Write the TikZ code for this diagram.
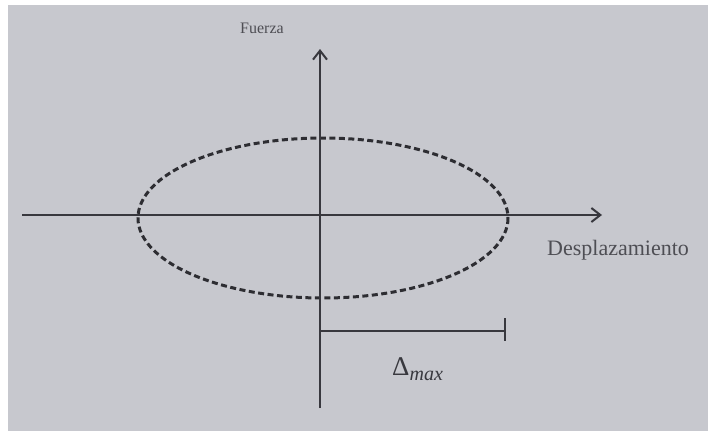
\documentclass[tikz,border=0pt]{standalone}
\usepackage{fontspec}
\setmainfont{Liberation Serif}
\usetikzlibrary{arrows.meta}
\definecolor{paper}{RGB}{199,200,206}
\definecolor{ink}{RGB}{56,56,62}
\definecolor{txt}{RGB}{78,78,84}
\tikzset{
  axis/.style={draw=ink, line width=2pt, -{Straight Barb[length=9pt,width=14pt,line width=2pt]}},
  plain/.style={draw=ink, line width=2pt},
  loop/.style={draw=ink!80!black, line width=3pt, dash pattern=on 6pt off 3.5pt},
  lbl/.style={inner sep=0pt, text=txt}
}
\begin{document}
\begin{tikzpicture}[x=1pt,y=-1pt]
  \useasboundingbox (0,0) rectangle (708,434);
  \fill[white] (0,0) rectangle (708,434);
  \fill[paper] (8,5) rectangle (708,431);
  % coordinates
  \coordinate (xl) at (22,215);
  \coordinate (xr) at (602,215);
  \coordinate (yb) at (320,408);
  \coordinate (yt) at (320,49);
  \coordinate (ds) at (320,331);
  \coordinate (de) at (505,331);
  \coordinate (tt) at (505,318);
  \coordinate (tb) at (505,341);
  % ellipse
  \draw[loop] (323,218) ellipse [x radius=185, y radius=80];
  % axes
  \draw[axis] (xl) -- (xr);
  \draw[axis] (yb) -- (yt);
  % delta bracket
  \draw[plain] (ds) -- (de);
  \draw[plain] (tt) -- (tb);
  % labels
  \node[lbl, anchor=base] (fz) at (262,33) {\fontsize{16}{18}\selectfont Fuerza};
  \node[lbl, anchor=base west] (dp) at (547,255) {\fontsize{22}{26}\selectfont Desplazamiento};
  \node[lbl, anchor=base west, text=ink] (dm) at (392,375) {\fontsize{27}{30}\selectfont Δ\raisebox{-5pt}{\fontsize{20}{22}\selectfont\itshape max}};
\end{tikzpicture}
\end{document}
